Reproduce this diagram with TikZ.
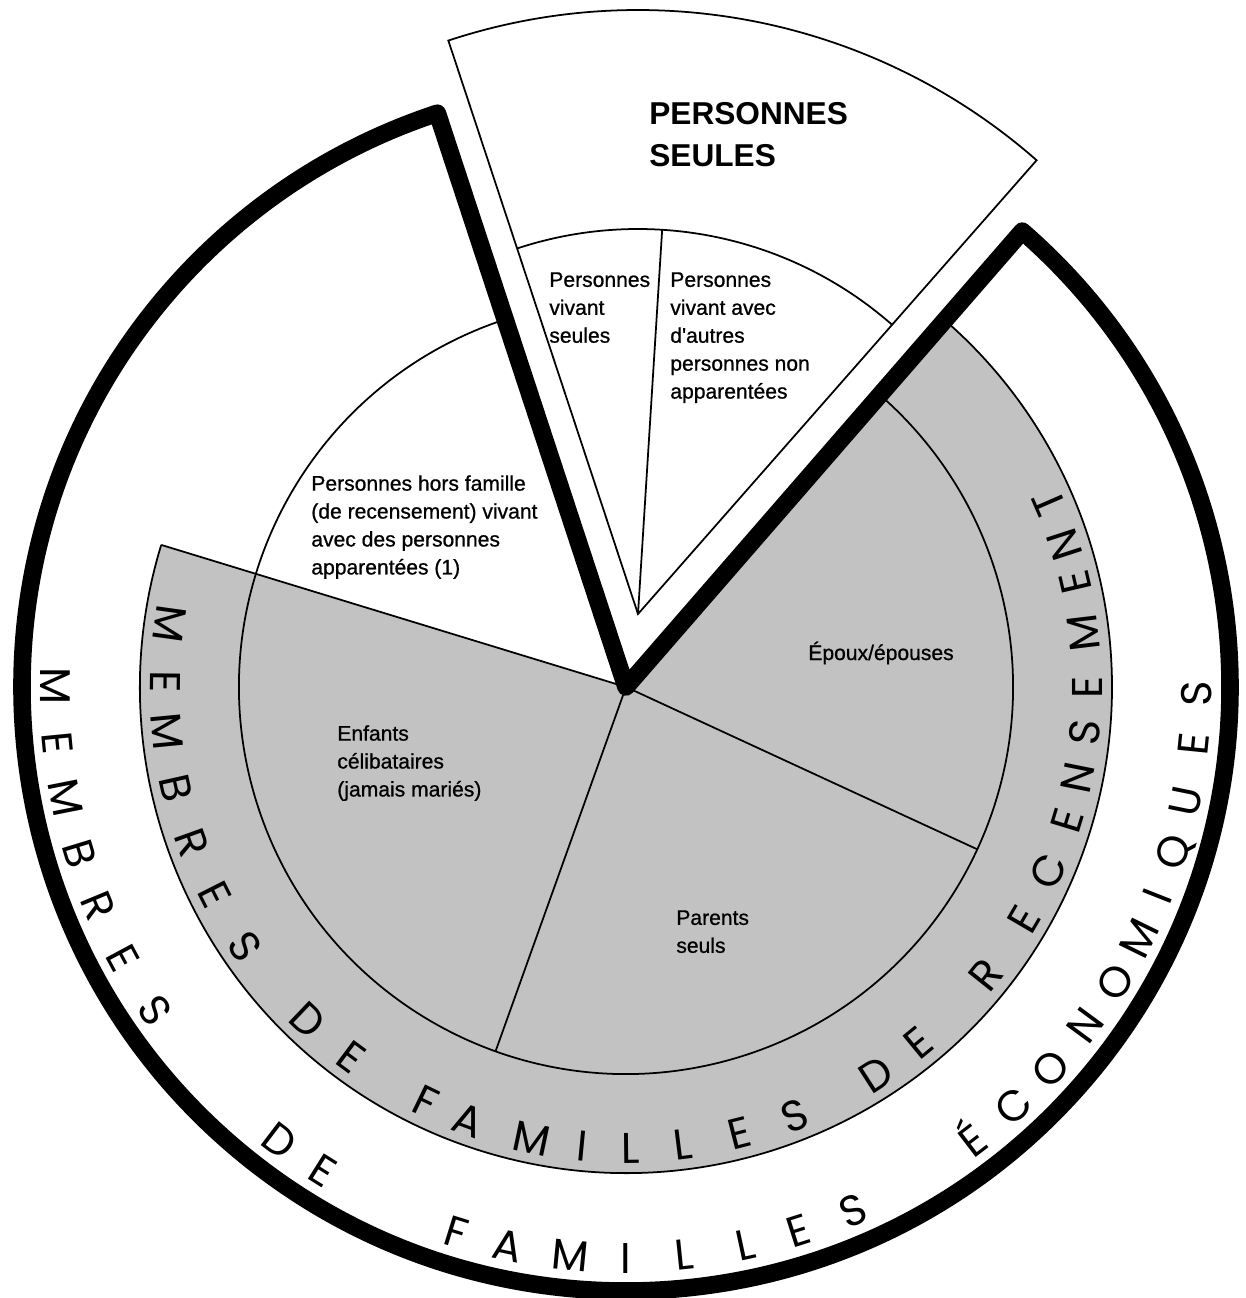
\documentclass[tikz,border=0pt]{standalone}
\usepackage{fontspec}
\setmainfont{Liberation Sans}
\newfontfamily\labelfont{Liberation Sans}[FakeBold=0.8]
\newfontfamily\ringfont{Poppins}
\usepackage{tikz}

\begin{document}
\begin{tikzpicture}[x=0.02cm, y=0.02cm]

\tikzstyle{thin line} = [line width=1pt]
\tikzstyle{thick line} = [line width=10pt, line join=round, line cap=round]
\tikzstyle{lbl} = [inner sep=0pt, align=left, anchor=north west, font=\labelfont\fontsize{12}{15.9}\selectfont]
\tikzstyle{ringletter} = [inner sep=0pt, anchor=base, font=\ringfont\fontsize{24.5}{26}\selectfont]

\useasboundingbox (-626,-611) rectangle (619,687);
\fill[white] (-626,-611) rectangle (619,687);

\coordinate (centre) at (0,0);
\coordinate (apex) at (12,73);

% Sectors of the family circle
\fill[black!24] (centre) -- (163:486) arc[start angle=163, end angle=409, radius=486] -- cycle;
\draw[thin line] (108.2:387) arc[start angle=108.2, end angle=409, radius=387];
\draw[thin line] (163:486) arc[start angle=163, end angle=409, radius=486];
\draw[thin line] (centre) -- (163:486);
\draw[thin line] (centre) -- (250.3:387);
\draw[thin line] (centre) -- (335.2:387);
\draw[thick line] (108.2:604) -- (centre) -- (49:604) arc[start angle=49, end angle=-251.8, radius=604] -- cycle;

% Pulled-out sector
\begin{scope}[shift={(apex)}]
\filldraw[thin line, fill=white] (0,0) -- (108.3:604) arc[start angle=108.3, end angle=48.7, radius=604] -- cycle;
\draw[thin line] (108.3:385) arc[start angle=108.3, end angle=48.7, radius=385];
\draw[thin line] (0,0) -- (86.4:385);
\end{scope}

% Labels
\node[lbl, font=\fontsize{18}{24}\selectfont\bfseries] (seules) at (23,585) {PERSONNES\\SEULES};
\node[lbl] (vivant) at (-77,415) {Personnes\\vivant\\seules};
\node[lbl] (nonapp) at (44,415) {Personnes\\vivant avec\\d\textquotesingle autres\\personnes non\\apparentées};
\node[lbl] (horsfam) at (-315,212) {Personnes hors famille\\(de recensement) vivant\\avec des personnes\\apparentées (1)};
\node[lbl] (enfants) at (-289,-38) {Enfants\\célibataires\\(jamais mariés)};
\node[lbl, anchor=base west] (epoux) at (182,27) {Époux/épouses};
\node[lbl] (parents) at (50,-223) {Parents\\seuls};

% Ring text
\foreach \a/\c in {172.1/M, 179.4/E, 185.5/M, 192.7/B, 199.7/R, 206.8/E, 214.2/S,
  226.3/D, 233.4/E, 244.2/F, 250/A, 258.2/M, 264.5/I, 270.6/L, 277.1/L, 284.3/E, 291.5/S,
  302.8/D, 309.4/E, 321.3/R, 329.7/E, 336.5/C, 343.1/E, 348.7/N, 354.3/S, 360/E,
  366.8/M, 373.1/E, 378/N, 383.5/T}
  \node[ringletter, rotate=\a+90] at (\a:476) {\c};
\foreach \a/\c in {179.9/M, 185.6/E, 191.2/M, 197/B, 202.5/R, 208.3/E, 214.5/S,
  232.7/D, 237.9/E, 252.7/F, 258.1/A, 264.4/M, 270/I, 275.9/L, 282.1/L, 287.6/E, 293.4/S,
  307.4/É, 312.7/C, 318.0/O, 323.6/N, 328.9/O, 333.9/M, 338.5/I, 343.2/Q, 348.5/U,
  354.3/E, 359.3/S}
  \node[ringletter, rotate=\a+90] at (\a:586) {\c};

\end{tikzpicture}
\end{document}
